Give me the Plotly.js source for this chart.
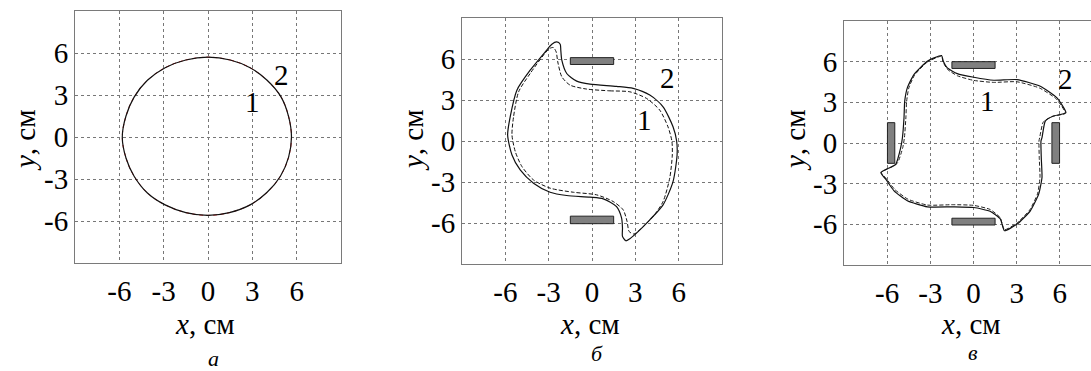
<!DOCTYPE html>
<html>
<head>
<meta charset="utf-8">
<script src="https://cdn.plot.ly/plotly-3.0.1.min.js"></script>
<style>
  html, body { margin: 0; padding: 0; overflow: hidden; background: #fff; }
</style>
</head>
<body>
<div id="chart"></div>
<script>
// --- values (cm) ---

// panel a: both trajectories are one circle
const circleX = [0.0, 1.5, 2.85, 4.0, 4.95, 5.45, 5.65, 5.45, 4.9, 4.0, 2.85, 1.45, 0.0, -1.5, -2.9, -4.1, -5.0, -5.55, -5.8, -5.55, -5.0, -4.1, -2.9, -1.5, 0.0];
const circleY = [5.7, 5.5, 4.95, 4.05, 2.85, 1.48, 0.0, -1.45, -2.8, -3.95, -4.85, -5.4, -5.6, -5.4, -4.85, -4.0, -2.8, -1.5, 0.0, 1.5, 2.85, 4.05, 4.95, 5.5, 5.7];

// panel б, curve 2 (solid)
const b2X = [-0.14, 1.7, 2.85, 4.0, 4.92, 5.61, 5.86, 5.89, 5.61, 4.92, 4.0, 3.08, 2.62, 2.34, 2.11, 2.11, 2.05, 1.7, 0.78,
             -0.14, -1.75, -2.9, -4.05, -4.97, -5.54, -5.84, -5.66, -5.2, -4.28, -3.24, -2.78, -2.44, -2.2, -2.16, -2.09, -1.75, -1.06, -0.14];
const b2Y = [4.16, 4.0, 3.85, 3.36, 2.5, 1.04, 0.0, -1.02, -2.97, -4.67, -5.77, -6.74, -7.15, -7.3, -6.98, -6.37, -5.64, -4.8, -4.23,
             -4.11, -3.99, -3.75, -3.09, -2.12, -1.02, 0.44, 1.78, 3.72, 5.18, 6.52, 7.08, 7.25, 7.08, 6.64, 5.91, 4.94, 4.38, 4.16];
// panel б, curve 1 (dashed)
const b1X = [-0.37, 1.24, 2.62, 3.77, 4.69, 5.26, 5.53, 5.56, 5.38, 4.92, 4.23, 3.31, 2.9, 2.57, 2.43, 2.16, 1.47, 0.32,
             -1.29, -2.9, -4.05, -4.85, -5.31, -5.54, -5.43, -5.08, -4.28, -3.36, -2.94, -2.67, -2.48, -2.37, -2.09, -1.52, -0.37];
const b1Y = [3.8, 3.67, 3.6, 3.12, 2.26, 1.04, 0.0, -1.02, -2.72, -4.43, -5.53, -6.5, -6.81, -6.62, -5.89, -5.04, -4.43, -3.94,
             -3.75, -3.45, -2.85, -1.87, -0.78, 0.44, 1.78, 3.6, 4.94, 6.28, 6.77, 6.84, 6.52, 5.79, 4.7, 4.09, 3.8];

// panel в, curve 2 (solid)
const v2X = [-2.22, -3.21, -4.14, -4.6, -4.78, -4.83, -4.94, -5.06, -5.41, -6.44, -6.1, -5.52, -4.6, -3.21, -1.37, 0.02, 1.18, 1.87, 2.15,
             3.03, 3.95, 4.53, 4.76, 4.71, 4.69, 4.76, 4.99, 5.56, 6.42, 5.8, 4.64, 3.03, 1.41, 0.02, -1.13, -1.82, -2.1, -2.22];
const v2Y = [6.45, 6.03, 5.05, 4.07, 3.09, 1.86, 0.39, -0.34, -1.57, -2.18, -2.67, -3.53, -4.26, -4.71, -4.71, -4.76, -5.05, -5.61, -6.47,
             -5.98, -5.0, -3.77, -2.55, -1.08, 0.15, 0.39, 1.62, 1.99, 2.23, 3.33, 4.19, 4.68, 4.63, 4.85, 5.12, 5.54, 6.03, 6.45];
// panel в, curve 1 (dashed)
const v1X = [-2.22, -3.2, -4.1, -4.5, -4.65, -4.7, -4.8, -4.92, -5.3, -6.4, -6.05, -5.45, -4.55, -3.2, -1.4, 0.0, 1.15, 1.85, 2.15,
             3.0, 3.9, 4.45, 4.62, 4.57, 4.55, 4.6, 4.85, 5.45, 6.38, 5.75, 4.6, 3.0, 1.4, 0.0, -1.1, -1.8, -2.12, -2.22];
const v1Y = [6.4, 5.98, 5.0, 4.05, 3.05, 1.85, 0.4, -0.35, -1.5, -2.18, -2.65, -3.45, -4.15, -4.58, -4.55, -4.6, -4.9, -5.5, -6.4,
             -5.92, -4.95, -3.75, -2.55, -1.1, 0.15, 0.4, 1.55, 1.95, 2.2, 3.25, 4.05, 4.52, 4.47, 4.62, 4.95, 5.42, 5.98, 6.4];

// magnets: [x0, x1, y0, y1]
const magnetsB = [[-1.5, 1.5, 5.6, 6.1], [-1.5, 1.5, -6.05, -5.5]];
const magnetsV = [[-1.5, 1.5, 5.5, 6.0], [-1.5, 1.5, -6.05, -5.55], [-5.98, -5.47, -1.5, 1.5], [5.45, 5.98, -1.5, 1.5]];

// curve number labels: [x, y]
const labelsA = {one: [3.0, 2.5], two: [5.0, 4.4]};
const labelsB = {one: [3.66, 1.53], two: [5.24, 4.6]};
const labelsV = {one: [0.95, 3.09], two: [6.38, 4.7]};

const tickVals = [-6, -3, 0, 3, 6];
const tickText = ['-6', '-3', '0', '3', '6'];
const panelNames = ['а', 'б', 'в'];

// --- layout helpers ---
const W = 1110, H = 371;
const FONT = 'Liberation Serif, Times New Roman, serif';
const boxes = [
  {l: 75, r: 341, t: 11, b: 263},
  {l: 462, r: 722, t: 18, b: 264},
  {l: 844, r: 1103, t: 21, b: 265}
];

function axis(dom, anchor, isX) {
  const ax = {
    domain: dom,
    anchor: anchor,
    range: [-9, 9],
    tickvals: tickVals,
    ticktext: tickText,
    ticks: '',
    showgrid: true,
    gridcolor: '#777',
    griddash: 'dot',
    gridwidth: 1,
    zeroline: false,
    showline: true,
    linecolor: '#7a7a7a',
    linewidth: 1,
    mirror: true,
    tickfont: {family: FONT, size: 29, color: '#000'},
    fixedrange: true
  };
  if (isX) ax.ticklabelstandoff = 2;
  return ax;
}

const layout = {
  width: W,
  height: H,
  margin: {l: 0, r: 0, t: 0, b: 0},
  paper_bgcolor: '#fff',
  plot_bgcolor: '#fff',
  showlegend: false,
  font: {family: FONT, color: '#000'},
  shapes: [],
  annotations: []
};

boxes.forEach((bx, i) => {
  const n = i === 0 ? '' : String(i + 1);
  layout['xaxis' + n] = axis([bx.l / W, bx.r / W], 'y' + n, true);
  layout['yaxis' + n] = axis([1 - bx.b / H, 1 - bx.t / H], 'x' + n, false);
});

function line(x, y, ax, color, dash, width, smooth) {
  return {
    x: x, y: y, type: 'scatter', mode: 'lines',
    xaxis: 'x' + ax, yaxis: 'y' + ax,
    line: {color: color, dash: dash, width: width, shape: 'spline', smoothing: smooth},
    hoverinfo: 'skip'
  };
}

const data = [
  line(circleX, circleY, '', '#d22', '4px,3px', 1, 1),
  line(circleX, circleY, '', '#111', 'solid', 1.2, 1),
  line(b1X, b1Y, '2', '#111', '4px,2px', 1, 0.7),
  line(b2X, b2Y, '2', '#111', 'solid', 1.2, 0.7),
  line(v1X, v1Y, '3', '#222', '4px,2px', 1, 0.5),
  line(v2X, v2Y, '3', '#111', 'solid', 1.2, 0.5)
];

function addMagnets(list, ax) {
  list.forEach(m => {
    layout.shapes.push({
      type: 'rect', xref: 'x' + ax, yref: 'y' + ax,
      x0: m[0], x1: m[1], y0: m[2], y1: m[3],
      fillcolor: '#808080', line: {color: '#222', width: 1}, layer: 'above'
    });
  });
}
addMagnets(magnetsB, '2');
addMagnets(magnetsV, '3');

function addLabels(lbl, ax) {
  [['1', lbl.one], ['2', lbl.two]].forEach(([t, p]) => {
    layout.annotations.push({
      text: t, x: p[0], y: p[1], xref: 'x' + ax, yref: 'y' + ax,
      xanchor: 'center', yanchor: 'middle',
      showarrow: false, font: {family: FONT, size: 29, color: '#000'}
    });
  });
}
addLabels(labelsA, '');
addLabels(labelsB, '2');
addLabels(labelsV, '3');

// axis titles and panel letters
const xTitleX = [205, 590, 971];
const yTitleX = [25, 413, 795];
const letterX = [213, 597, 973];
const letterY = [358, 353, 352];
boxes.forEach((bx, i) => {
  layout.annotations.push({
    text: '<i>x</i>, см', x: xTitleX[i] / W, y: 1 - 324 / H, xref: 'paper', yref: 'paper',
    xanchor: 'center', yanchor: 'middle',
    showarrow: false, font: {family: FONT, size: 29, color: '#000'}
  });
  layout.annotations.push({
    text: '<i>y</i>, см', x: yTitleX[i] / W, y: 1 - 140 / H, xref: 'paper', yref: 'paper',
    xanchor: 'center', yanchor: 'middle',
    textangle: -90, showarrow: false, font: {family: FONT, size: 29, color: '#000'}
  });
  layout.annotations.push({
    text: '<i>' + panelNames[i] + '</i>', x: letterX[i] / W, y: 1 - letterY[i] / H,
    xref: 'paper', yref: 'paper', xanchor: 'center', yanchor: 'middle',
    showarrow: false, font: {family: FONT, size: 22, color: '#000'}
  });
});

Plotly.newPlot('chart', data, layout, {displayModeBar: false, staticPlot: true});
</script>
</body>
</html>
